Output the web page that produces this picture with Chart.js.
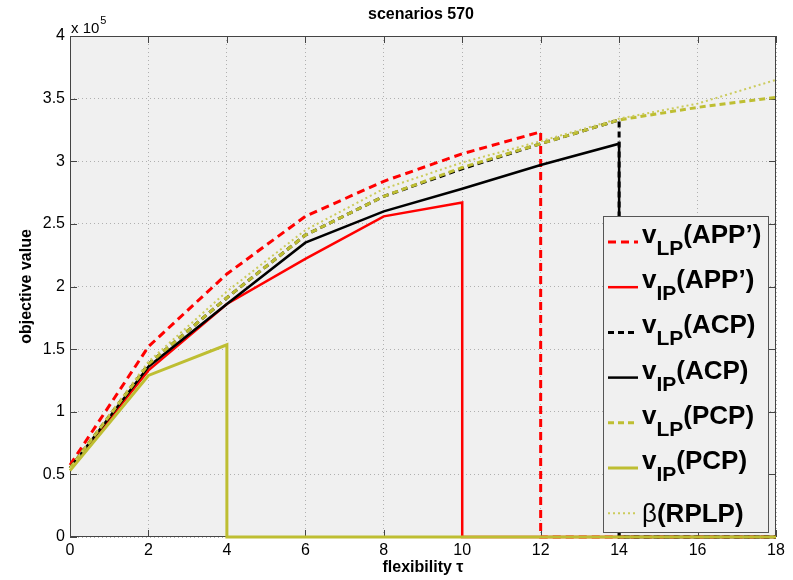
<!DOCTYPE html>
<html>
<head>
<meta charset="utf-8">
<script src="https://cdn.jsdelivr.net/npm/chart.js@4.4.1/dist/chart.umd.min.js"></script>
<style>
  body{margin:0;background:#fff;}
  canvas{display:block;}
</style>
</head>
<body>
<canvas id="plot" width="793" height="580"></canvas>
<script>
// flexibility tau on the x axis, objective values (0 = infeasible, line drops to zero)
const tau = [0, 2, 4, 6, 8, 10, 12, 14, 16, 18];
const vLP_APP = [57500, 152000, 210000, 256000, 284000, 306000, 323500, 0, 0, 0];
const vIP_APP = [55000, 133000, 186000, 222000, 256000, 267000, 0, 0, 0, 0];
const vLP_ACP = [55000, 138000, 191000, 241000, 272000, 294000, 314000, 333000, 0, 0];
const vIP_ACP = [55000, 136000, 186000, 235000, 260000, 278000, 297000, 314000, 0, 0];
const vLP_PCP = [55000, 138000, 191000, 241000, 272000, 295000, 314000, 333000, 343000, 351000];
const vIP_PCP = [53000, 129000, 153500, 0, 0, 0, 0, 0, 0, 0];
const betaRPLP = [55000, 140000, 196000, 245000, 278000, 299000, 316000, 334000, 346000, 365000];
const xTicks = [0, 2, 4, 6, 8, 10, 12, 14, 16, 18];
const yTicks = [0, 50000, 100000, 150000, 200000, 250000, 300000, 350000, 400000];

const RED = '#ff0000', BLACK = '#000000', OLIVE = '#bebe32', OLIVE_LT = '#cbcb5c';
const FONT = '"Liberation Sans", Arial, sans-serif';

// a value followed by a zero gets a vertical drop at the same tau
function toPoints(vals){
    const pts = [];
    vals.forEach((v,i)=>{
        if(v===0 && i>0 && vals[i-1]>0) pts.push({x:tau[i-1], y:0});
        pts.push({x:tau[i], y:v});
    });
    return pts;
}

const series = [
    {vals:vLP_APP, color:RED,      width:3,   dash:[8,5], sub:'LP', tail:'(APP\u2019)'},
    {vals:vIP_APP, color:RED,      width:2.5, dash:[],    sub:'IP', tail:'(APP\u2019)'},
    {vals:vLP_ACP, color:BLACK,    width:3,   dash:[6,4], sub:'LP', tail:'(ACP)'},
    {vals:vIP_ACP, color:BLACK,    width:2.5, dash:[],    sub:'IP', tail:'(ACP)'},
    {vals:vLP_PCP, color:OLIVE,    width:3,   dash:[6,4], sub:'LP', tail:'(PCP)'},
    {vals:vIP_PCP, color:OLIVE,    width:3,   dash:[],    sub:'IP', tail:'(PCP)'},
    {vals:betaRPLP,color:OLIVE_LT, width:2,   dash:[2,3], sub:null, tail:'(RPLP)'}
];

const datasets = series.map((s,i)=>({
    data: toPoints(s.vals),
    borderColor: s.color,
    borderWidth: s.width,
    borderDash: s.dash,
    pointRadius: 0,
    fill: false,
    tension: 0,
    clip: false,
    order: series.length - i
}));

const frame = {
    id:'frame',
    beforeDraw(chart){
        const {ctx, chartArea:a} = chart;
        ctx.save();
        ctx.fillStyle = '#fff';
        ctx.fillRect(0,0,chart.width,chart.height);
        ctx.fillStyle = '#f0f0f0';
        ctx.fillRect(a.left,a.top,a.right-a.left,a.bottom-a.top);
        ctx.restore();
    },
    beforeDatasetsDraw(chart){
        const {ctx, chartArea:a, scales} = chart;
        ctx.save();
        ctx.strokeStyle = '#444';
        ctx.lineWidth = 1;
        ctx.setLineDash([]);
        ctx.strokeRect(a.left+0.5,a.top+0.5,a.right-a.left-1,a.bottom-a.top-1);
        ctx.beginPath();
        xTicks.forEach(t=>{
            const px = Math.round(scales.x.getPixelForValue(t))+0.5;
            ctx.moveTo(px,a.bottom); ctx.lineTo(px,a.bottom-7);
            ctx.moveTo(px,a.top); ctx.lineTo(px,a.top+7);
        });
        yTicks.forEach(t=>{
            const py = Math.round(scales.y.getPixelForValue(t))+0.5;
            ctx.moveTo(a.left,py); ctx.lineTo(a.left+7,py);
            ctx.moveTo(a.right,py); ctx.lineTo(a.right-7,py);
        });
        ctx.stroke();
        ctx.restore();
    },
    afterDatasetsDraw(chart){
        const {ctx, chartArea:a} = chart;
        ctx.save();
        // legend
        const lx = a.right-173, ly = a.top+180, lw = 165, lh = 316;
        ctx.fillStyle = '#f0f0f0';
        ctx.fillRect(lx,ly,lw,lh);
        ctx.strokeStyle = '#555';
        ctx.lineWidth = 1;
        ctx.strokeRect(lx+0.5,ly+0.5,lw,lh);
        series.forEach((s,i)=>{
            const y = ly + 26 + i*45.2;
            ctx.strokeStyle = s.color;
            ctx.lineWidth = s.width;
            ctx.setLineDash(s.dash);
            ctx.beginPath();
            ctx.moveTo(lx+5,y); ctx.lineTo(lx+35,y);
            ctx.stroke();
            ctx.setLineDash([]);
            ctx.fillStyle = '#000';
            ctx.textAlign = 'left';
            ctx.textBaseline = 'alphabetic';
            let x = lx+39;
            if(s.sub){
                ctx.font = 'bold 26px '+FONT;
                ctx.fillText('v',x,y+1);
                x += ctx.measureText('v').width;
                ctx.font = 'bold 21px '+FONT;
                ctx.fillText(s.sub,x,y+13);
                x += ctx.measureText(s.sub).width;
                ctx.font = 'bold 26px '+FONT;
                ctx.fillText(s.tail,x,y+1);
            } else {
                ctx.font = '26px '+FONT;
                ctx.fillText('\u03b2',x,y+9);
                x += ctx.measureText('\u03b2').width;
                ctx.font = 'bold 26px '+FONT;
                ctx.fillText(s.tail,x,y+9);
            }
        });

        // titles
        ctx.fillStyle = '#000';
        ctx.textAlign = 'center';
        ctx.textBaseline = 'middle';
        ctx.font = 'bold 16px '+FONT;
        const cx = (a.left+a.right)/2;
        ctx.fillText('scenarios 570', cx-2, 15);
        ctx.fillText('flexibility \u03c4', cx, 568);
        ctx.save();
        ctx.translate(27,(a.top+a.bottom)/2);
        ctx.rotate(-Math.PI/2);
        ctx.fillText('objective value',0,0);
        ctx.restore();
        ctx.textAlign = 'left';
        ctx.textBaseline = 'alphabetic';
        ctx.font = '15px '+FONT;
        ctx.fillText('x 10', a.left+1, 33);
        const w = ctx.measureText('x 10').width;
        ctx.font = '11px '+FONT;
        ctx.fillText('5', a.left+2+w, 24);
        ctx.restore();
    }
};

new Chart(document.getElementById('plot'), {
    type:'line',
    data:{datasets},
    options:{
        responsive:false,
        animation:false,
        layout:{padding:{top:36, right:17, left:0, bottom:0}},
        plugins:{legend:{display:false}, tooltip:{enabled:false}, title:{display:false}},
        scales:{
            x:{
                type:'linear', min:0, max:18,
                afterBuildTicks: s=>{ s.ticks = xTicks.map(v=>({value:v})); },
                afterFit: s=>{ s.height = 43; },
                ticks:{color:'#000', font:{family:FONT, size:16}, padding:4, maxRotation:0},
                grid:{color:'#b0b0b0', drawTicks:false, lineWidth:1},
                border:{display:false, dash:[1,3]}
            },
            y:{
                type:'linear', min:0, max:400000,
                afterBuildTicks: s=>{ s.ticks = yTicks.map(v=>({value:v})); },
                afterFit: s=>{ s.width = 70; },
                ticks:{color:'#000', font:{family:FONT, size:16}, padding:5,
                       callback: v=>String(v/100000)},
                grid:{color:'#b0b0b0', drawTicks:false, lineWidth:1},
                border:{display:false, dash:[1,3]}
            }
        }
    },
    plugins:[frame]
});
</script>
</body>
</html>
